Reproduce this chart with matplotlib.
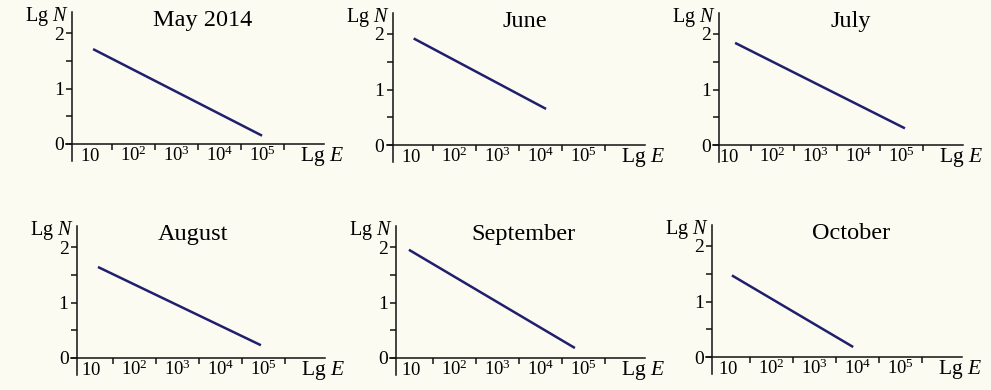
import matplotlib
matplotlib.use("Agg")
import matplotlib.pyplot as plt

plt.rcParams['font.family'] = ['Liberation Serif', 'DejaVu Serif']
plt.rcParams['mathtext.fontset'] = 'custom'
plt.rcParams['mathtext.rm'] = 'Liberation Serif'
plt.rcParams['mathtext.it'] = 'Liberation Serif:italic'
plt.rcParams['mathtext.default'] = 'regular'

# ---- data ----
months = ["May 2014", "June", "July", "August", "September", "October"]
x_start = [1.06, 1.05, 1.13, 1.15, 0.94, 1.08]   # lg E at line start
y_start = [1.71, 1.92, 1.84, 1.64, 1.95, 1.47]   # lg N at line start
x_end = [4.99, 4.13, 5.08, 4.94, 4.80, 3.90]
y_end = [0.15, 0.65, 0.30, 0.23, 0.18, 0.18]
x_label_pos = [1, 2, 3, 4, 5]
x_tick_labels = [r"$10$", r"$10^{2}$", r"$10^{3}$", r"$10^{4}$", r"$10^{5}$"]
x_tick_marks = [1.5, 2.5, 3.5, 4.5, 5.5]
y_ticks = [0, 1, 2]
y_tick_labels = ["0", "1", "2"]
y_minor = [0.5, 1.5]

# ---- layout (pixels of the 991x390 figure) ----
W, H = 991, 390
UX, UY = 43.0, 55.5
# (pixel x of lgE=1, pixel y of lgN=0, y-axis position, title x)
panels = [
    (90.5, 144, 0.57, 3.60),
    (411.5, 145, 0.56, 3.64),
    (729.5, 145, 0.76, 3.83),
    (91.5, 358, 0.66, 3.36),
    (411.5, 358, 0.64, 3.60),
    (728.5, 357, 0.62, 3.85),
]
XL = (0.3, 6.5)
YL = (-0.4, 2.5)

bg = '#fbfbf2'
fig = plt.figure(figsize=(W / 100, H / 100), dpi=100, facecolor=bg)

for i, (ox, oy, yax, tx) in enumerate(panels):
    left = ox + (XL[0] - 1) * UX
    width = (XL[1] - XL[0]) * UX
    top = oy - YL[1] * UY
    bottom = oy - YL[0] * UY
    ax = fig.add_axes([left / W, 1 - bottom / H, width / W, (bottom - top) / H])
    ax.set_xlim(*XL)
    ax.set_ylim(*YL)
    ax.patch.set_alpha(0)

    ax.plot([x_start[i], x_end[i]], [y_start[i], y_end[i]],
            color='#1f1f6e', lw=1.8, solid_capstyle='butt')

    for s in ('top', 'right'):
        ax.spines[s].set_visible(False)
    ax.spines['left'].set_position(('data', yax))
    ax.spines['bottom'].set_position(('data', 0))
    ax.spines['left'].set_bounds(-0.31, 2.38)
    ax.spines['bottom'].set_bounds(yax - 0.14, 6.44)
    for s in ('left', 'bottom'):
        ax.spines[s].set_linewidth(1.1)
        ax.spines[s].set_color('#111111')

    ax.set_xticks(x_tick_marks)
    ax.set_xticklabels([])
    ax.set_xticks(x_label_pos, x_tick_labels, minor=True)
    ax.tick_params(axis='x', which='major', direction='out', length=4.5,
                   width=1.1, color='#111111')
    ax.tick_params(axis='x', which='minor', length=0, pad=12.5, labelsize=13.5)
    for t in ax.xaxis.get_minor_ticks():
        t.label1.set_va('baseline')

    ax.set_yticks(y_ticks, y_tick_labels)
    ax.set_yticks(y_minor, minor=True)
    ax.tick_params(axis='y', which='both', direction='out', length=4,
                   width=1.1, color='#111111', pad=2, labelsize=14)

    ax.text(tx, 2.12, months[i], ha='center', va='baseline', fontsize=17.5)
    ax.text(yax - 0.07, 2.22, 'Lg $\\mathit{N}$', ha='right', va='baseline',
            fontsize=14.5, clip_on=False)
    ax.text(5.87, -0.3, 'Lg $\\mathit{E}$', ha='left', va='baseline',
            fontsize=15.5, clip_on=False)

fig.savefig('out.png', dpi=100, facecolor=bg)
